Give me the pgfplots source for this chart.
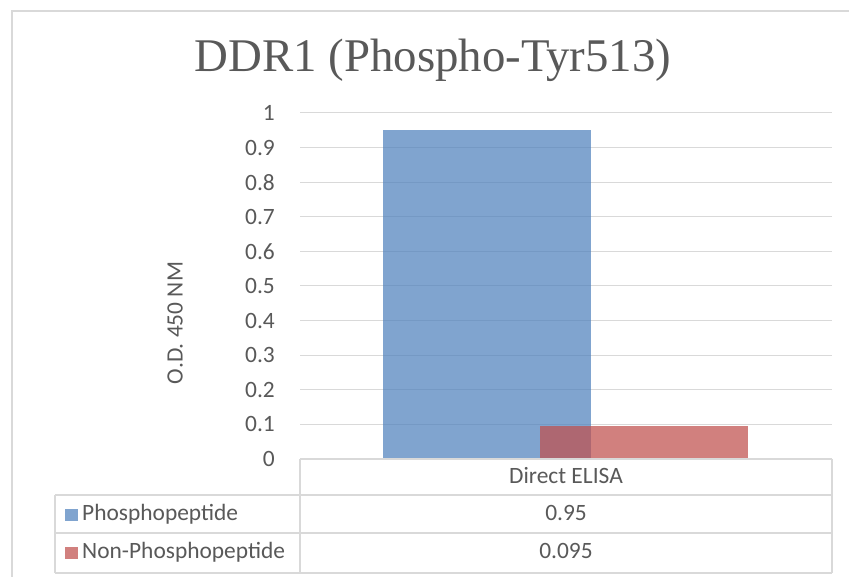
\documentclass[border=0pt]{standalone}
\usepackage{pgfplots}
\pgfplotsset{compat=1.18}
\usepackage{fontspec}
\setmainfont{Carlito}
\newfontfamily\titlefont{Liberation Serif}
\definecolor{txt}{HTML}{595959}
\definecolor{gridc}{HTML}{D9D9D9}
\definecolor{bblue}{HTML}{4F81BD}
\definecolor{bred}{HTML}{C0504D}
\begin{document}
\begin{tikzpicture}[x=1bp,y=1bp]
\useasboundingbox (0,0) rectangle (849,577);
\fill[white] (0,0) rectangle (849,577);
\draw[gridc, line width=1.2bp] (12,0) -- (12,566) -- (849,566);
\node[txt, anchor=base, font=\titlefont\fontsize{47}{56}\selectfont] at (433,505) {DDR1 (Phospho-Tyr513)};
\node[txt, rotate=90, font=\fontsize{23.5}{28}\selectfont] at (175,254) {O.D. 450 NM};
\begin{axis}[
  at={(300bp,118bp)}, anchor=south west,
  scale only axis, width=532bp, height=346bp,
  xmin=-0.5, xmax=0.5, ymin=0, ymax=1,
  xtick=\empty,
  ytick={0,0.1,0.2,0.3,0.4,0.5,0.6,0.7,0.8,0.9,1},
  yticklabels={0,0.1,0.2,0.3,0.4,0.5,0.6,0.7,0.8,0.9,1},
  axis line style={draw=none},
  major tick length=0pt,
  ymajorgrids, grid style={gridc, line width=1bp},
  yticklabel style={font=\fontsize{23.5}{28}\selectfont, text=txt, anchor=east, inner sep=0pt, xshift=-25bp},
  clip=false,
]
\addplot[ybar, bar width=208bp, bar shift=-79bp, fill=bblue, fill opacity=0.72, draw=none] coordinates {(0,0.95)};
\addplot[ybar, bar width=208bp, bar shift=78bp, fill=bred, fill opacity=0.72, draw=none] coordinates {(0,0.095)};
\end{axis}
% data table
\draw[gridc, line width=1.2bp] (300,118) -- (832,118);
\draw[gridc, line width=1.2bp] (300,118) -- (300,4);
\draw[gridc, line width=1.2bp] (832,118) -- (832,4);
\draw[gridc, line width=1.2bp] (55,82) -- (832,82);
\draw[gridc, line width=1.2bp] (55,44) -- (832,44);
\draw[gridc, line width=1.2bp] (55,4) -- (832,4);
\draw[gridc, line width=1.2bp] (55,82) -- (55,4);
\begin{scope}[font=\fontsize{23.5}{28}\selectfont, text=txt]
\node[anchor=base] at (566,93) {Direct ELISA};
\node[anchor=base] at (566,56) {0.95};
\node[anchor=base] at (566,18) {0.095};
\fill[bblue, fill opacity=0.72] (65,56) rectangle (78,68);
\fill[bred, fill opacity=0.72] (65,18) rectangle (78,30);
\node[anchor=base west, inner sep=0pt] at (82,56) {Phosphopeptide};
\node[anchor=base west, inner sep=0pt] at (82,18) {Non-Phosphopeptide};
\end{scope}
\end{tikzpicture}
\end{document}
